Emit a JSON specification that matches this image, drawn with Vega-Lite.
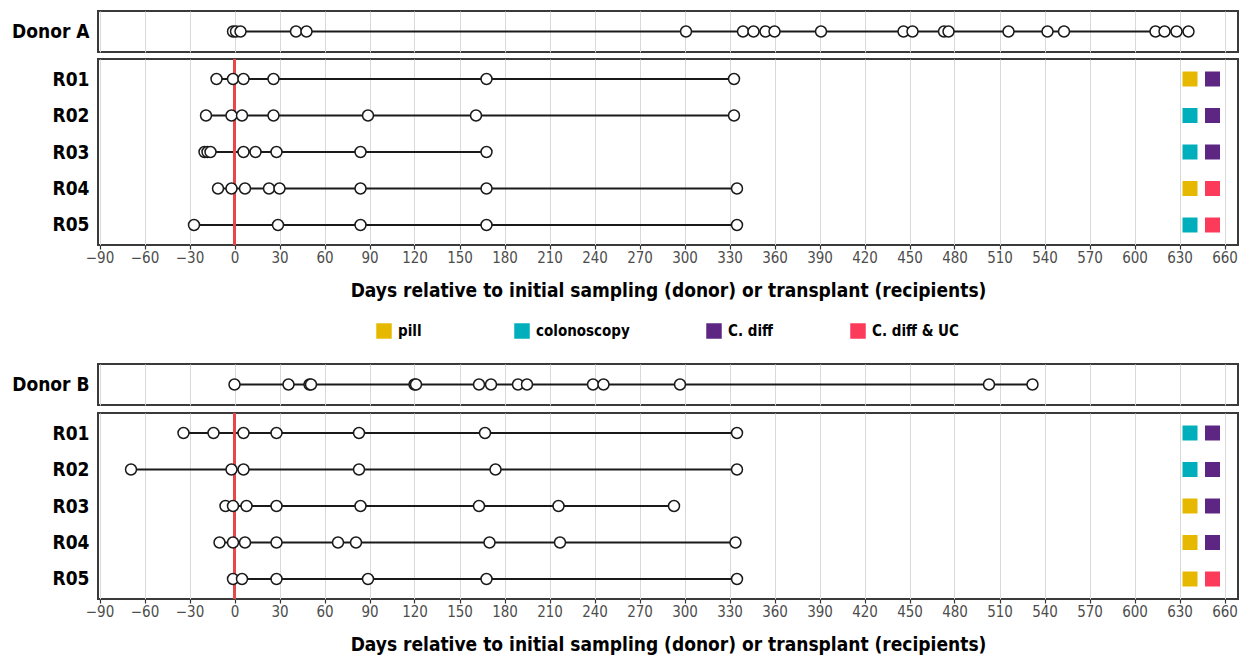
{
  "$schema": "https://vega.github.io/schema/vega-lite/v6.json",
  "background": "white",
  "padding": {"left": 0, "top": 10, "right": 2, "bottom": 0},
  "config": {
    "font": "Liberation Sans Narrow, DejaVu Sans Condensed, sans-serif",
    "view": {"stroke": "#3a3a3a", "strokeWidth": 2}
  },
  "datasets": {
    "donorA": [
      {"subject": "Donor A", "day": -1}, {"subject": "Donor A", "day": 1}, {"subject": "Donor A", "day": 4},
      {"subject": "Donor A", "day": 41}, {"subject": "Donor A", "day": 48}, {"subject": "Donor A", "day": 301},
      {"subject": "Donor A", "day": 339}, {"subject": "Donor A", "day": 346}, {"subject": "Donor A", "day": 354},
      {"subject": "Donor A", "day": 360}, {"subject": "Donor A", "day": 391}, {"subject": "Donor A", "day": 446},
      {"subject": "Donor A", "day": 452}, {"subject": "Donor A", "day": 473}, {"subject": "Donor A", "day": 476},
      {"subject": "Donor A", "day": 516}, {"subject": "Donor A", "day": 542}, {"subject": "Donor A", "day": 553},
      {"subject": "Donor A", "day": 614}, {"subject": "Donor A", "day": 620}, {"subject": "Donor A", "day": 628},
      {"subject": "Donor A", "day": 636}
    ],
    "recipA": [
      {"subject": "R01", "day": -12}, {"subject": "R01", "day": -1}, {"subject": "R01", "day": 6},
      {"subject": "R01", "day": 26}, {"subject": "R01", "day": 168}, {"subject": "R01", "day": 333},
      {"subject": "R02", "day": -19}, {"subject": "R02", "day": -2}, {"subject": "R02", "day": 5},
      {"subject": "R02", "day": 26}, {"subject": "R02", "day": 89}, {"subject": "R02", "day": 161},
      {"subject": "R02", "day": 333},
      {"subject": "R03", "day": -20}, {"subject": "R03", "day": -18}, {"subject": "R03", "day": -16},
      {"subject": "R03", "day": 6}, {"subject": "R03", "day": 14}, {"subject": "R03", "day": 28},
      {"subject": "R03", "day": 84}, {"subject": "R03", "day": 168},
      {"subject": "R04", "day": -11}, {"subject": "R04", "day": -2}, {"subject": "R04", "day": 7},
      {"subject": "R04", "day": 23}, {"subject": "R04", "day": 30}, {"subject": "R04", "day": 84},
      {"subject": "R04", "day": 168}, {"subject": "R04", "day": 335},
      {"subject": "R05", "day": -27}, {"subject": "R05", "day": 29}, {"subject": "R05", "day": 84},
      {"subject": "R05", "day": 168}, {"subject": "R05", "day": 335}
    ],
    "donorB": [
      {"subject": "Donor B", "day": 0}, {"subject": "Donor B", "day": 36}, {"subject": "Donor B", "day": 50},
      {"subject": "Donor B", "day": 51}, {"subject": "Donor B", "day": 120}, {"subject": "Donor B", "day": 121},
      {"subject": "Donor B", "day": 163}, {"subject": "Donor B", "day": 171}, {"subject": "Donor B", "day": 189},
      {"subject": "Donor B", "day": 195}, {"subject": "Donor B", "day": 239}, {"subject": "Donor B", "day": 246},
      {"subject": "Donor B", "day": 297}, {"subject": "Donor B", "day": 503}, {"subject": "Donor B", "day": 532}
    ],
    "recipB": [
      {"subject": "R01", "day": -34}, {"subject": "R01", "day": -14}, {"subject": "R01", "day": 6},
      {"subject": "R01", "day": 28}, {"subject": "R01", "day": 83}, {"subject": "R01", "day": 167},
      {"subject": "R01", "day": 335},
      {"subject": "R02", "day": -69}, {"subject": "R02", "day": -2}, {"subject": "R02", "day": 6},
      {"subject": "R02", "day": 83}, {"subject": "R02", "day": 174}, {"subject": "R02", "day": 335},
      {"subject": "R03", "day": -6}, {"subject": "R03", "day": -1}, {"subject": "R03", "day": 8},
      {"subject": "R03", "day": 28}, {"subject": "R03", "day": 84}, {"subject": "R03", "day": 163},
      {"subject": "R03", "day": 216}, {"subject": "R03", "day": 293},
      {"subject": "R04", "day": -10}, {"subject": "R04", "day": -1}, {"subject": "R04", "day": 7},
      {"subject": "R04", "day": 28}, {"subject": "R04", "day": 69}, {"subject": "R04", "day": 81},
      {"subject": "R04", "day": 170}, {"subject": "R04", "day": 217}, {"subject": "R04", "day": 334},
      {"subject": "R05", "day": -1}, {"subject": "R05", "day": 5}, {"subject": "R05", "day": 28},
      {"subject": "R05", "day": 89}, {"subject": "R05", "day": 168}, {"subject": "R05", "day": 335}
    ],
    "markA": [
      {"subject": "R01", "treatment": "pill", "condition": "C. diff"},
      {"subject": "R02", "treatment": "colonoscopy", "condition": "C. diff"},
      {"subject": "R03", "treatment": "colonoscopy", "condition": "C. diff"},
      {"subject": "R04", "treatment": "pill", "condition": "C. diff & UC"},
      {"subject": "R05", "treatment": "colonoscopy", "condition": "C. diff & UC"}
    ],
    "markB": [
      {"subject": "R01", "treatment": "colonoscopy", "condition": "C. diff"},
      {"subject": "R02", "treatment": "colonoscopy", "condition": "C. diff"},
      {"subject": "R03", "treatment": "pill", "condition": "C. diff"},
      {"subject": "R04", "treatment": "pill", "condition": "C. diff"},
      {"subject": "R05", "treatment": "pill", "condition": "C. diff & UC"}
    ]
  },
  "spacing": 62,
  "vconcat": [
    {
      "spacing": 3,
      "vconcat": [
        {
          "width": 1140, "height": 41,
          "data": {"name": "donorA"},
          "layer": [
            {
              "mark": {"type": "line", "color": "#1a1a1a", "strokeWidth": 1.8},
              "encoding": {
                "x": {"field": "day", "type": "quantitative",
                  "scale": {"domain": [-91, 669], "nice": false, "zero": false},
                  "axis": {"values": [-90,-60,-30,0,30,60,90,120,150,180,210,240,270,300,330,360,390,420,450,480,510,540,570,600,630,660],
                    "labels": false, "ticks": false, "domain": false, "title": null, "grid": true, "gridColor": "#d9d9d9", "gridWidth": 1, "minExtent": 0, "maxExtent": 0}},
                "y": {"field": "subject", "type": "nominal", "scale": {"type": "point", "padding": 0.5},
                  "axis": {"title": null, "ticks": false, "domain": false, "grid": false, "labelFontSize": 19, "labelFontWeight": "bold", "labelColor": "#000", "labelPadding": 9, "minExtent": 97, "maxExtent": 97}},
                "detail": {"field": "subject"}
              }
            },
            {
              "mark": {"type": "circle", "fill": "white", "stroke": "#1a1a1a", "strokeWidth": 1.5, "size": 120, "opacity": 1},
              "encoding": {
                "x": {"field": "day", "type": "quantitative"},
                "y": {"field": "subject", "type": "nominal"}
              }
            }
          ]
        },
        {
          "width": 1140, "height": 186,
          "data": {"name": "recipA"},
          "layer": [
            {
              "mark": {"type": "line", "color": "#1a1a1a", "strokeWidth": 1.8},
              "encoding": {
                "x": {"field": "day", "type": "quantitative",
                  "scale": {"domain": [-91, 669], "nice": false, "zero": false},
                  "axis": {"values": [-90,-60,-30,0,30,60,90,120,150,180,210,240,270,300,330,360,390,420,450,480,510,540,570,600,630,660],
                    "domain": false, "grid": true, "gridColor": "#d9d9d9", "gridWidth": 1,
                    "ticks": true, "tickSize": 4, "tickColor": "#333", "tickWidth": 1.2,
                    "labelFontSize": 15, "labelColor": "#4d4d4d", "labelPadding": 1,
                    "title": "Days relative to initial sampling (donor) or transplant (recipients)",
                    "titleFontSize": 19, "titleFontWeight": "bold", "titleColor": "#000", "titlePadding": 16}},
                "y": {"field": "subject", "type": "nominal", "scale": {"type": "point", "padding": 0.548},
                  "axis": {"title": null, "ticks": false, "domain": false, "grid": false, "labelFontSize": 19, "labelFontWeight": "bold", "labelColor": "#000", "labelPadding": 9, "minExtent": 97, "maxExtent": 97}},
                "detail": {"field": "subject"}
              }
            },
            {
              "mark": {"type": "rule", "color": "#E8474A", "strokeWidth": 3},
              "encoding": {"x": {"datum": 0}}
            },
            {
              "mark": {"type": "circle", "fill": "white", "stroke": "#1a1a1a", "strokeWidth": 1.5, "size": 120, "opacity": 1},
              "encoding": {
                "x": {"field": "day", "type": "quantitative"},
                "y": {"field": "subject", "type": "nominal"}
              }
            },
            {
              "data": {"name": "markA"},
              "mark": {"type": "square", "size": 225, "opacity": 1, "filled": true},
              "encoding": {
                "x": {"datum": 637},
                "y": {"field": "subject", "type": "nominal"},
                "fill": {"field": "treatment", "type": "nominal",
                  "scale": {"domain": ["pill", "colonoscopy"], "range": ["#E6B800", "#00AEBC"]},
                  "legend": {"orient": "none", "legendX": 278, "legendY": 312, "direction": "horizontal", "title": null,
                    "symbolType": "square", "symbolSize": 240, "symbolStrokeWidth": 0, "labelFontSize": 15, "labelFontWeight": "bold",
                    "labelColor": "#000", "labelOffset": 6, "columnPadding": 92, "padding": 0}}
              }
            },
            {
              "data": {"name": "markA"},
              "mark": {"type": "square", "size": 225, "opacity": 1, "filled": true},
              "encoding": {
                "x": {"datum": 652},
                "y": {"field": "subject", "type": "nominal"},
                "color": {"field": "condition", "type": "nominal",
                  "scale": {"domain": ["C. diff", "C. diff & UC"], "range": ["#5E2683", "#FC3A5A"]},
                  "legend": {"orient": "none", "legendX": 608, "legendY": 312, "direction": "horizontal", "title": null,
                    "symbolType": "square", "symbolSize": 240, "symbolStrokeWidth": 0, "labelFontSize": 15, "labelFontWeight": "bold",
                    "labelColor": "#000", "labelOffset": 6, "columnPadding": 77, "padding": 0}}
              }
            }
          ]
        }
      ]
    },
    {
      "spacing": 4,
      "vconcat": [
        {
          "width": 1140, "height": 41,
          "data": {"name": "donorB"},
          "layer": [
            {
              "mark": {"type": "line", "color": "#1a1a1a", "strokeWidth": 1.8},
              "encoding": {
                "x": {"field": "day", "type": "quantitative",
                  "scale": {"domain": [-91, 669], "nice": false, "zero": false},
                  "axis": {"values": [-90,-60,-30,0,30,60,90,120,150,180,210,240,270,300,330,360,390,420,450,480,510,540,570,600,630,660],
                    "labels": false, "ticks": false, "domain": false, "title": null, "grid": true, "gridColor": "#d9d9d9", "gridWidth": 1, "minExtent": 0, "maxExtent": 0}},
                "y": {"field": "subject", "type": "nominal", "scale": {"type": "point", "padding": 0.5},
                  "axis": {"title": null, "ticks": false, "domain": false, "grid": false, "labelFontSize": 19, "labelFontWeight": "bold", "labelColor": "#000", "labelPadding": 9, "minExtent": 97, "maxExtent": 97}},
                "detail": {"field": "subject"}
              }
            },
            {
              "mark": {"type": "circle", "fill": "white", "stroke": "#1a1a1a", "strokeWidth": 1.5, "size": 120, "opacity": 1},
              "encoding": {
                "x": {"field": "day", "type": "quantitative"},
                "y": {"field": "subject", "type": "nominal"}
              }
            }
          ]
        },
        {
          "width": 1140, "height": 186,
          "data": {"name": "recipB"},
          "layer": [
            {
              "mark": {"type": "line", "color": "#1a1a1a", "strokeWidth": 1.8},
              "encoding": {
                "x": {"field": "day", "type": "quantitative",
                  "scale": {"domain": [-91, 669], "nice": false, "zero": false},
                  "axis": {"values": [-90,-60,-30,0,30,60,90,120,150,180,210,240,270,300,330,360,390,420,450,480,510,540,570,600,630,660],
                    "domain": false, "grid": true, "gridColor": "#d9d9d9", "gridWidth": 1,
                    "ticks": true, "tickSize": 4, "tickColor": "#333", "tickWidth": 1.2,
                    "labelFontSize": 15, "labelColor": "#4d4d4d", "labelPadding": 1,
                    "title": "Days relative to initial sampling (donor) or transplant (recipients)",
                    "titleFontSize": 19, "titleFontWeight": "bold", "titleColor": "#000", "titlePadding": 16}},
                "y": {"field": "subject", "type": "nominal", "scale": {"type": "point", "padding": 0.548},
                  "axis": {"title": null, "ticks": false, "domain": false, "grid": false, "labelFontSize": 19, "labelFontWeight": "bold", "labelColor": "#000", "labelPadding": 9, "minExtent": 97, "maxExtent": 97}},
                "detail": {"field": "subject"}
              }
            },
            {
              "mark": {"type": "rule", "color": "#E8474A", "strokeWidth": 3},
              "encoding": {"x": {"datum": 0}}
            },
            {
              "mark": {"type": "circle", "fill": "white", "stroke": "#1a1a1a", "strokeWidth": 1.5, "size": 120, "opacity": 1},
              "encoding": {
                "x": {"field": "day", "type": "quantitative"},
                "y": {"field": "subject", "type": "nominal"}
              }
            },
            {
              "data": {"name": "markB"},
              "mark": {"type": "square", "size": 225, "opacity": 1, "filled": true},
              "encoding": {
                "x": {"datum": 637},
                "y": {"field": "subject", "type": "nominal"},
                "fill": {"field": "treatment", "type": "nominal"}
              }
            },
            {
              "data": {"name": "markB"},
              "mark": {"type": "square", "size": 225, "opacity": 1, "filled": true},
              "encoding": {
                "x": {"datum": 652},
                "y": {"field": "subject", "type": "nominal"},
                "color": {"field": "condition", "type": "nominal"}
              }
            }
          ]
        }
      ]
    }
  ]
}
